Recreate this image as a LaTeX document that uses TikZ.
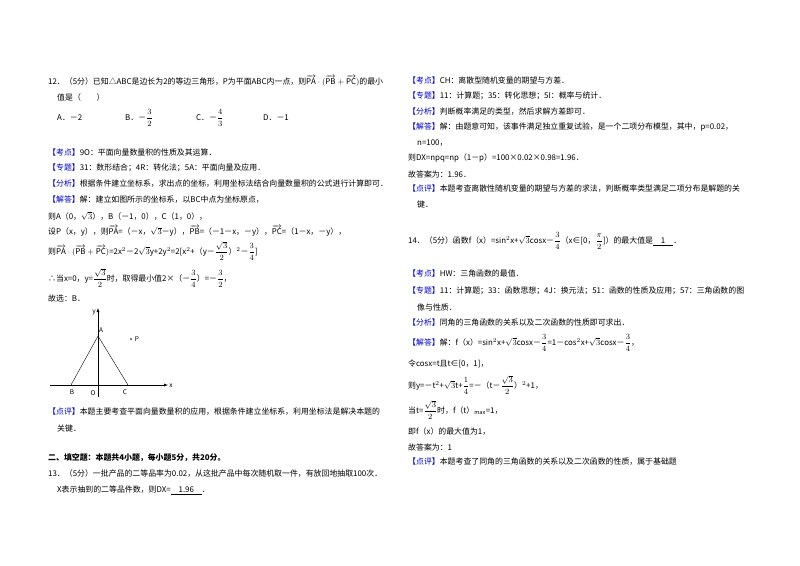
\documentclass[tikz,border=0pt]{standalone}
\usepackage{amsmath}
\usepackage{fontspec}
\setmainfont{Noto Sans CJK SC}
\begin{document}
\begin{tikzpicture}[x=1pt,y=-1pt,
  ln/.style={anchor=west,inner sep=0pt,font=\fontsize{7.9}{9}\selectfont},
  tag/.style={text=blue!80!black}]
\useasboundingbox[fill=white] (0,0) rectangle (800,565);
\newcommand{\T}[1]{{\color{blue!75!black}【#1】}}
\newcommand{\V}[1]{\overrightarrow{\mathrm{#1}}}
\newcommand{\F}[2]{$\displaystyle\frac{#1}{#2}$}
% left column
\node[ln] (l1) at (48,81) {12．（5分）已知△ABC是边长为2的等边三角形，P为平面ABC内一点，则$\V{PA}\cdot(\V{PB}+\V{PC})$的最小};
\node[ln] (l2) at (57,97) {值是（\quad\quad）};
\node[ln] (o1) at (57,118) {A．－2};
\node[ln] (o2) at (125,118) {B．－\F{3}{2}};
\node[ln] (o3) at (196,118) {C．－\F{4}{3}};
\node[ln] (o4) at (263,118) {D．－1};
\node[ln] (l3) at (48,152) {\T{考点}9O：平面向量数量积的性质及其运算．};
\node[ln] (l4) at (48,168) {\T{专题}31：数形结合；4R：转化法；5A：平面向量及应用．};
\node[ln] (l5) at (48,184) {\T{分析}根据条件建立坐标系，求出点的坐标，利用坐标法结合向量数量积的公式进行计算即可．};
\node[ln] (l6) at (48,200) {\T{解答}解：建立如图所示的坐标系，以BC中点为坐标原点，};
\node[ln] (l7) at (48,216) {则A（0，$\sqrt3$），B（－1，0），C（1，0），};
\node[ln] (l8) at (48,231) {设P（x，y），则$\V{PA}$=（－x，$\sqrt3$－y），$\V{PB}$=（－1－x，－y），$\V{PC}$=（1－x，－y），};
\node[ln] (l9) at (48,251) {则$\V{PA}\cdot(\V{PB}+\V{PC})$=2x$^2$－2$\sqrt3$y+2y$^2$=2[x$^2$+（y－\F{\sqrt3}{2}）$^2$－\F{3}{4}]};
\node[ln] (l10) at (48,278) {∴当x=0，y=\F{\sqrt3}{2}时，取得最小值2×（－\F{3}{4}）=－\F{3}{2}，};
\node[ln] (l11) at (48,298) {故选：B．};
% graph
\coordinate (ya) at (98,397);
\coordinate (yb) at (98,308);
\coordinate (xa) at (50,385);
\coordinate (xb) at (168,385);
\draw[-latex,thin] (ya) -- (yb);
\draw[-latex,thin] (xa) -- (xb);
\coordinate (A) at (98,336);
\coordinate (B) at (71,385);
\coordinate (C) at (128,385);
\draw[thin] (B) -- (A) -- (C);
\fill (131,339) circle (0.8);
\node[font=\fontsize{6.5}{7}\itshape] (pl) at (137,339) {P};
\node[font=\fontsize{6.5}{7}\itshape] (al) at (101,330) {A};
\node[font=\fontsize{6.5}{7}\itshape] (bl) at (72,392) {B};
\node[font=\fontsize{6.5}{7}\itshape] (ol) at (93,393) {O};
\node[font=\fontsize{6.5}{7}\itshape] (cl) at (125,392) {C};
\node[font=\fontsize{6.5}{7}\itshape] (xl) at (171,386) {x};
\node[font=\fontsize{6.5}{7}\itshape] (yl) at (94,312) {y};
\node[ln] (l12) at (48,412) {\T{点评}本题主要考查平面向量数量积的应用，根据条件建立坐标系，利用坐标法是解决本题的};
\node[ln] (l13) at (57,428) {关键．};
\node[ln,font=\fontsize{7.9}{9}\selectfont\bfseries] (l14) at (48,458) {二、填空题：本题共4小题，每小题5分，共20分。};
\node[ln] (l15) at (48,474) {13．（5分）一批产品的二等品率为0.02，从这批产品中每次随机取一件，有放回地抽取100次．};
\node[ln] (l16) at (57,490) {X表示抽到的二等品件数，则DX=\underline{\quad 1.96\quad}．};
% right column
\node[ln] (r1) at (408,80) {\T{考点}CH：离散型随机变量的期望与方差．};
\node[ln] (r2) at (408,96) {\T{专题}11：计算题；35：转化思想；5I：概率与统计．};
\node[ln] (r3) at (408,112) {\T{分析}判断概率满足的类型，然后求解方差即可．};
\node[ln] (r4) at (408,127) {\T{解答}解：由题意可知，该事件满足独立重复试验，是一个二项分布模型，其中，p=0.02，};
\node[ln] (r5) at (417,143) {n=100，};
\node[ln] (r6) at (408,158) {则DX=npq=np（1－p）=100×0.02×0.98=1.96．};
\node[ln] (r7) at (408,174) {故答案为：1.96．};
\node[ln] (r8) at (408,189) {\T{点评}本题考查离散性随机变量的期望与方差的求法，判断概率类型满足二项分布是解题的关};
\node[ln] (r9) at (417,205) {键．};
\node[ln] (r10) at (408,241) {14．（5分）函数f（x）=sin$^2$x+$\sqrt3$cosx－\F{3}{4}（x∈[0，\F{\pi}{2}]）的最大值是\underline{\quad 1\quad}．};
\node[ln] (r11) at (408,274) {\T{考点}HW：三角函数的最值．};
\node[ln] (r12) at (408,291) {\T{专题}11：计算题；33：函数思想；4J：换元法；51：函数的性质及应用；57：三角函数的图};
\node[ln] (r13) at (417,307) {像与性质．};
\node[ln] (r14) at (408,323) {\T{分析}同角的三角函数的关系以及二次函数的性质即可求出．};
\node[ln] (r15) at (408,343) {\T{解答}解：f（x）=sin$^2$x+$\sqrt3$cosx－\F{3}{4}=1－cos$^2$x+$\sqrt3$cosx－\F{3}{4}，};
\node[ln] (r16) at (408,364) {令cosx=t且t∈[0，1]，};
\node[ln] (r17) at (408,385) {则y=－t$^2$+$\sqrt3$t+\F{1}{4}=－（t－\F{\sqrt3}{2}）$^2$+1，};
\node[ln] (r18) at (408,410) {当t=\F{\sqrt3}{2}时，f（t）$_{\max}$=1，};
\node[ln] (r19) at (408,432) {即f（x）的最大值为1，};
\node[ln] (r20) at (408,447) {故答案为：1};
\node[ln] (r21) at (408,462) {\T{点评}本题考查了同角的三角函数的关系以及二次函数的性质，属于基础题};
\end{tikzpicture}
\end{document}
